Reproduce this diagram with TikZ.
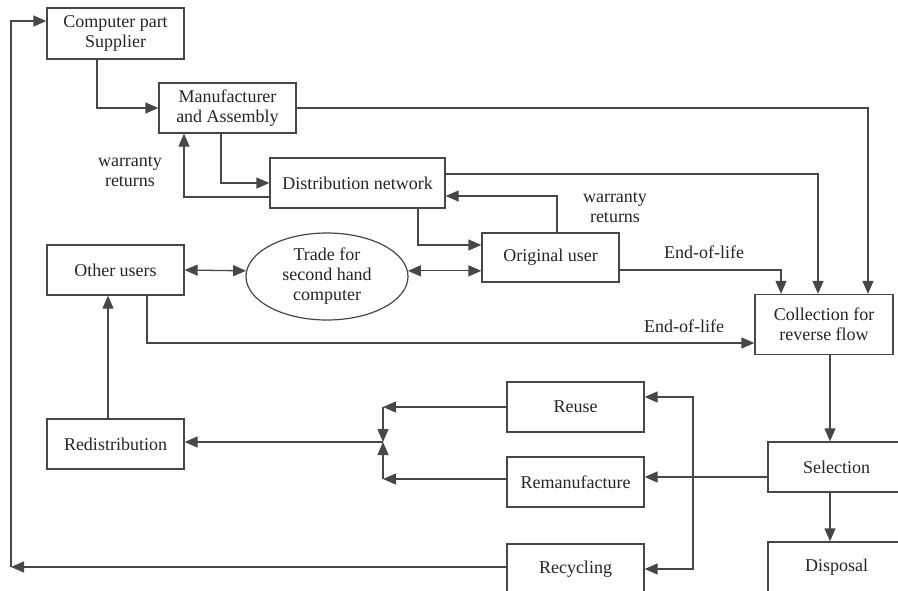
\documentclass[tikz,border=0pt]{standalone}
\usepackage{fontspec}
\setmainfont{Liberation Serif}
\usetikzlibrary{arrows.meta,shapes.geometric,calc}
\begin{document}
\begin{tikzpicture}[x=1pt,y=-1pt,
  every node/.style={font=\fontsize{18}{20}\selectfont, text=black!85},
  box/.style={draw=black!72, line width=1.3pt, fill=white, minimum width=137pt, minimum height=50pt, align=center, inner sep=0pt},
  oval/.style={draw=black!72, line width=1.2pt, ellipse, minimum width=162pt, minimum height=87pt, align=center, inner sep=0pt},
  con/.style={draw=black!72, line width=1.3pt},
  arr/.style={con, -{Triangle[length=13pt,width=11pt]}},
  darr/.style={con, {Triangle[length=13pt,width=11pt]}-{Triangle[length=13pt,width=11pt]}},
  lbl/.style={align=center, inner sep=0pt}]
\useasboundingbox (0,0) rectangle (898,590);
\clip (0,0) rectangle (898,590);
\fill[white] (0,0) rectangle (898,590);
% nodes
\node[box, minimum height=51pt] (sup) at (115.5,33.5) {Computer part\\Supplier};
\node[box] (man) at (227.5,108) {Manufacturer\\and Assembly};
\node[box, minimum width=175pt] (dist) at (357.5,183) {Distribution network};
\node[box, minimum height=49pt] (orig) at (550.5,257.5) {Original user};
\node[box] (oth) at (115.5,270) {Other users};
\node[oval] (trade) at (327,276.5) {Trade for\\second hand\\computer};
\node[box, minimum width=138pt, minimum height=60pt] (coll) at (824,324.5) {Collection for\\reverse flow};
\node[box] (redist) at (115.5,444) {Redistribution};
\node[box] (reuse) at (575.5,407) {Reuse};
\node[box] (reman) at (575.5,482) {Remanufacture};
\node[box] (recyc) at (575.5,569) {Recycling};
\node[box] (sel) at (836.5,467) {Selection};
\node[box] (disp) at (836.5,567) {Disposal};
% labels
\node[lbl] (w1) at (130,172) {warranty\\returns};
\node[lbl] (w2) at (615,208) {warranty\\returns};
\node[lbl] (e1) at (704,252) {End-of-life};
\node[lbl] (e2) at (684,326) {End-of-life};
% helper coordinates
\coordinate (vmid) at (693,477);
\coordinate (J) at (383,442);
\coordinate (Jt) at (383,407);
\coordinate (Jb) at (383,479);
\coordinate (L) at (11,567);
% connectors
\draw[arr] ([xshift=-18.5pt]sup.south) |- (man.west);
\draw[arr] ([xshift=-6.5pt]man.south) |- (dist.west);
\draw[arr] ([yshift=-14pt]dist.west) -| ([xshift=-43.5pt]man.south);
\draw[arr] (man.east) -| ([xshift=44pt]coll.north);
\draw[arr] ([yshift=9pt]dist.east) -| ([xshift=-6pt]coll.north);
\draw[arr] ([xshift=60.5pt]dist.south) |- ([yshift=12.5pt]orig.west);
\draw[arr] ([xshift=6.5pt]orig.north) |- ([yshift=-13pt]dist.east);
\draw[arr] ([yshift=-12.5pt]orig.east) -| ([xshift=-43pt]coll.north);
\draw[darr] (oth.east) -- (trade.176);
\draw[darr] (trade.4) -- (trade.4 -| orig.west);
\draw[arr] ([xshift=31.5pt]oth.south) |- ([yshift=-18.5pt]coll.west);
\draw[arr] ([xshift=-7.5pt]redist.north) -- ([xshift=-7.5pt]oth.south);
\draw[arr] ([xshift=6pt]coll.south) -- ([xshift=6pt]coll.south |- sel.north);
\draw[arr] ([xshift=-6.5pt]sel.south) -- ([xshift=-6.5pt]disp.north);
\draw[arr] (sel.west |- vmid) -- (reman.east |- vmid);
\draw[arr] (vmid) |- ([yshift=10pt]reuse.east);
\draw[arr] (vmid) |- (recyc.east);
\draw[arr] (reuse.west |- Jt) -- (Jt);
\draw[arr] (Jt) -- (J);
\draw[arr] (reman.west |- Jb) -- (Jb);
\draw[arr] (Jb) -- (J);
\draw[arr] (J) -- (J -| redist.east);
\draw[arr] (recyc.west |- L) -- (L);
\draw[arr] (L) |- ([yshift=12.5pt]sup.west);
\end{tikzpicture}
\end{document}
